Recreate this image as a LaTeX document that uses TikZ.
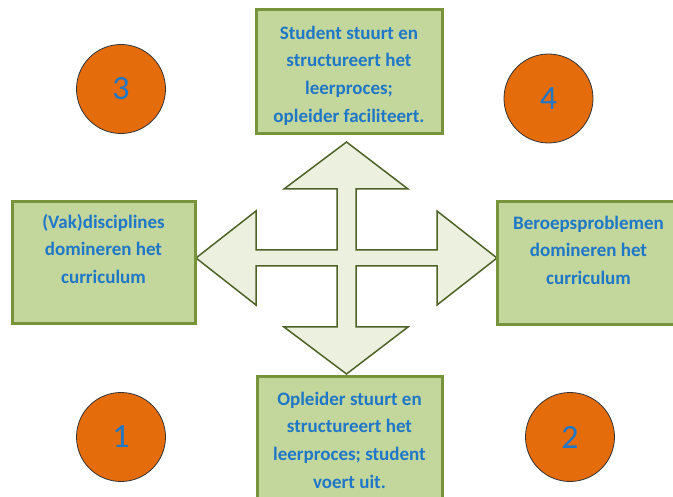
\documentclass[tikz,border=0pt]{standalone}
\usepackage{fontspec}
\setmainfont{Carlito}
\usepackage{tikz}
\usetikzlibrary{positioning}
\definecolor{boxgreen}{RGB}{195,214,155}
\definecolor{boxline}{RGB}{119,147,60}
\definecolor{arrowfill}{RGB}{235,241,222}
\definecolor{arrowline}{RGB}{79,98,40}
\definecolor{textblue}{RGB}{31,119,200}
\definecolor{circorange}{RGB}{228,108,10}

\begin{document}
\begin{tikzpicture}[
    x=1pt, y=-1pt,
    box/.style={rectangle, draw=boxline, line width=3pt, fill=boxgreen,
                minimum width=183pt, minimum height=122pt},
    boxtext/.style={inner sep=0pt, align=center, text=textblue,
                font=\fontsize{19}{27.7}\selectfont\bfseries},
    quadrant/.style={circle, draw=black!80, line width=0.8pt, fill=circorange,
                minimum size=89pt, inner sep=0pt, text=textblue,
                font=\fontsize{34}{34}\selectfont}
]
    \clip (0,0) rectangle (673,497);
    \fill[white] (0,0) rectangle (673,497);

    % Cross arrow
    \draw[arrowline, line width=1.5pt, fill=arrowfill, line join=miter]
        (346.5,142) -- (408,189) -- (356,189) -- (356,250) -- (437,250)
        -- (437,211) -- (497,258) -- (437,305) -- (437,266) -- (356,266)
        -- (356,327) -- (408,327) -- (346.5,374) -- (284,327) -- (337,327)
        -- (337,266) -- (256,266) -- (256,305) -- (196,258) -- (256,211)
        -- (256,250) -- (337,250) -- (337,189) -- (284,189) -- cycle;

    % Student leads
    \node[box, minimum width=186pt, minimum height=124pt] (student) at (349,72) {};
    \node[boxtext, below=17pt of student.north] (studenttext)
        {Student stuurt en\\structureert het\\leerproces;\\opleider faciliteert.};

    % Disciplines
    \node[box] (vak) at (103.5,262.5) {};
    \node[boxtext, below=14pt of vak.north] (vaktext)
        {(Vak)disciplines\\domineren het\\curriculum};

    % Professional problems
    \node[box, minimum height=123pt] (beroep) at (588.5,263.5) {};
    \node[boxtext, below=15pt of beroep.north] (beroeptext)
        {Beroepsproblemen\\domineren het\\curriculum};

    % Teacher leads
    \node[box, minimum width=185pt, minimum height=124pt] (opleider) at (349.5,439) {};
    \node[boxtext, below=16pt of opleider.north] (opleidertext)
        {Opleider stuurt en\\structureert het\\leerproces; student\\voert uit.};

    % Quadrants
    \node[quadrant] (q3) at (121,89) {3};
    \node[quadrant] (q4) at (548.5,98.5) {4};
    \node[quadrant] (q1) at (121,437) {1};
    \node[quadrant] (q2) at (570,437) {2};
\end{tikzpicture}
\end{document}
